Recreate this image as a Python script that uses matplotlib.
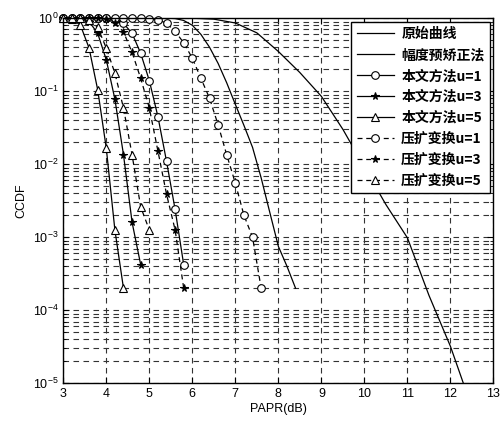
import numpy as np
import matplotlib
matplotlib.use("Agg")
import matplotlib.pyplot as plt
import matplotlib.ticker as ticker

plt.rcParams['font.family'] = ['Liberation Sans', 'Noto Sans CJK SC']
plt.rcParams['mathtext.fontset'] = 'custom'
plt.rcParams['mathtext.rm'] = 'Liberation Sans'
plt.rcParams['mathtext.it'] = 'Liberation Sans:italic'

# values
x_orig = [6.0, 6.5, 7.0, 7.5, 8.0, 8.5, 9.0, 9.5, 10.0, 10.5, 11.0, 11.5, 12.0, 12.3]
y_orig = [1.0, 0.97, 0.86, 0.63, 0.35, 0.18, 0.085, 0.03, 0.0091, 0.0028,
          9.8e-4, 1.6e-4, 3.2e-5, 1.0e-5]

x_pre = [5.4, 5.6, 5.8, 6.0, 6.2, 6.4, 6.6, 6.8, 7.0, 7.2, 7.4, 7.6, 7.8, 8.0, 8.2, 8.4]
y_pre = [1.0, 0.99, 0.93, 0.8, 0.6, 0.4, 0.24, 0.13, 0.066, 0.034, 0.017,
         0.0065, 0.0022, 7.5e-4, 4.0e-4, 2.0e-4]

x_our1 = [3.0, 3.2, 3.4, 3.6, 3.8, 4.0, 4.2, 4.4, 4.6, 4.8, 5.0, 5.2, 5.4, 5.6, 5.8]
y_our1 = [1.0, 1.0, 1.0, 1.0, 1.0, 1.0, 0.97, 0.85, 0.62, 0.33, 0.14, 0.045,
          0.011, 0.0024, 4.2e-4]

x_our3 = [3.0, 3.2, 3.4, 3.6, 3.8, 4.0, 4.2, 4.4, 4.6, 4.8]
y_our3 = [1.0, 1.0, 0.99, 0.9, 0.62, 0.27, 0.078, 0.0135, 0.0016, 4.2e-4]

x_our5 = [3.0, 3.2, 3.4, 3.6, 3.8, 4.0, 4.2, 4.4]
y_our5 = [1.0, 0.98, 0.8, 0.39, 0.105, 0.0166, 0.00126, 2.0e-4]

x_comp1 = [3.0, 3.2, 3.4, 3.6, 3.8, 4.0, 4.2, 4.4, 4.6, 4.8, 5.0, 5.2, 5.4, 5.6,
           5.8, 6.0, 6.2, 6.4, 6.6, 6.8, 7.0, 7.2, 7.4, 7.6]
y_comp1 = [1.0, 1.0, 1.0, 1.0, 1.0, 1.0, 1.0, 1.0, 1.0, 1.0, 0.99, 0.95, 0.855,
           0.66, 0.46, 0.283, 0.15, 0.08, 0.0346, 0.0134, 0.0055, 0.002, 0.001, 2.0e-4]

x_comp3 = [3.0, 3.2, 3.4, 3.6, 3.8, 4.0, 4.2, 4.4, 4.6, 4.8, 5.0, 5.2, 5.4, 5.6, 5.8]
y_comp3 = [1.0, 1.0, 1.0, 1.0, 1.0, 0.97, 0.86, 0.65, 0.34, 0.15, 0.059, 0.0152,
           0.0039, 0.00126, 2.0e-4]

x_comp5 = [3.0, 3.2, 3.4, 3.6, 3.8, 4.0, 4.2, 4.4, 4.6, 4.8, 5.0]
y_comp5 = [1.0, 1.0, 1.0, 0.95, 0.75, 0.39, 0.177, 0.059, 0.0134, 0.0026, 0.00126]

fig = plt.figure(figsize=(5.02, 4.23), dpi=100)
ax = fig.add_axes([0.126, 0.094, 0.857, 0.863])

lw = 0.9
mk = dict(markersize=5.5, markeredgewidth=0.8, clip_on=False)
ax.semilogy(x_orig, y_orig, '-', color='k', lw=lw, label='原始曲线')
ax.semilogy(x_pre, y_pre, '-', color='k', lw=lw, label='幅度预矫正法')
ax.semilogy(x_our1, y_our1, '-', color='k', lw=lw, marker='o', mfc='white', label='本文方法u=1', **mk)
ax.semilogy(x_our3, y_our3, '-', color='k', lw=lw, marker='*', mfc='k', label='本文方法u=3', **mk)
ax.semilogy(x_our5, y_our5, '-', color='k', lw=lw, marker='^', mfc='white', label='本文方法u=5', **mk)
dash = (0, (4, 3))
ax.semilogy(x_comp1, y_comp1, linestyle=dash, color='k', lw=lw, marker='o', mfc='white', label='压扩变换u=1', **mk)
ax.semilogy(x_comp3, y_comp3, linestyle=dash, color='k', lw=lw, marker='*', mfc='k', label='压扩变换u=3', **mk)
ax.semilogy(x_comp5, y_comp5, linestyle=dash, color='k', lw=lw, marker='^', mfc='white', label='压扩变换u=5', **mk)

ax.set_xlim(3, 13)
ax.set_ylim(1e-5, 1)
ax.set_xticks(range(3, 14))
ax.xaxis.set_minor_locator(ticker.NullLocator())
ax.yaxis.set_major_locator(ticker.LogLocator(base=10, numticks=10))
ax.yaxis.set_minor_locator(ticker.LogLocator(base=10, subs=np.arange(2, 10), numticks=20))
ax.yaxis.set_minor_formatter(ticker.NullFormatter())
ax.grid(True, which='both', linestyle=(0, (5, 4)), color='0.2', lw=0.8)
ax.tick_params(which='both', direction='in', top=True, right=True, labelsize=9, colors='k')
ax.tick_params(which='major', length=4)
ax.tick_params(which='minor', length=2)
for s in ax.spines.values():
    s.set_linewidth(1.0)

ax.set_xlabel('PAPR(dB)', fontsize=9, labelpad=2)
ax.set_ylabel('CCDF', fontsize=9, labelpad=4)

leg = ax.legend(loc='upper right', handlelength=2.7, labelspacing=0.5,
                borderaxespad=0.25, borderpad=0.4, handletextpad=0.5,
                fancybox=False, framealpha=1, edgecolor='k',
                prop={'family': ['Noto Sans CJK SC', 'DejaVu Sans'], 'size': 10, 'weight': 'bold'})
leg.get_frame().set_linewidth(1.0)

fig.savefig('out.png', dpi=100)
